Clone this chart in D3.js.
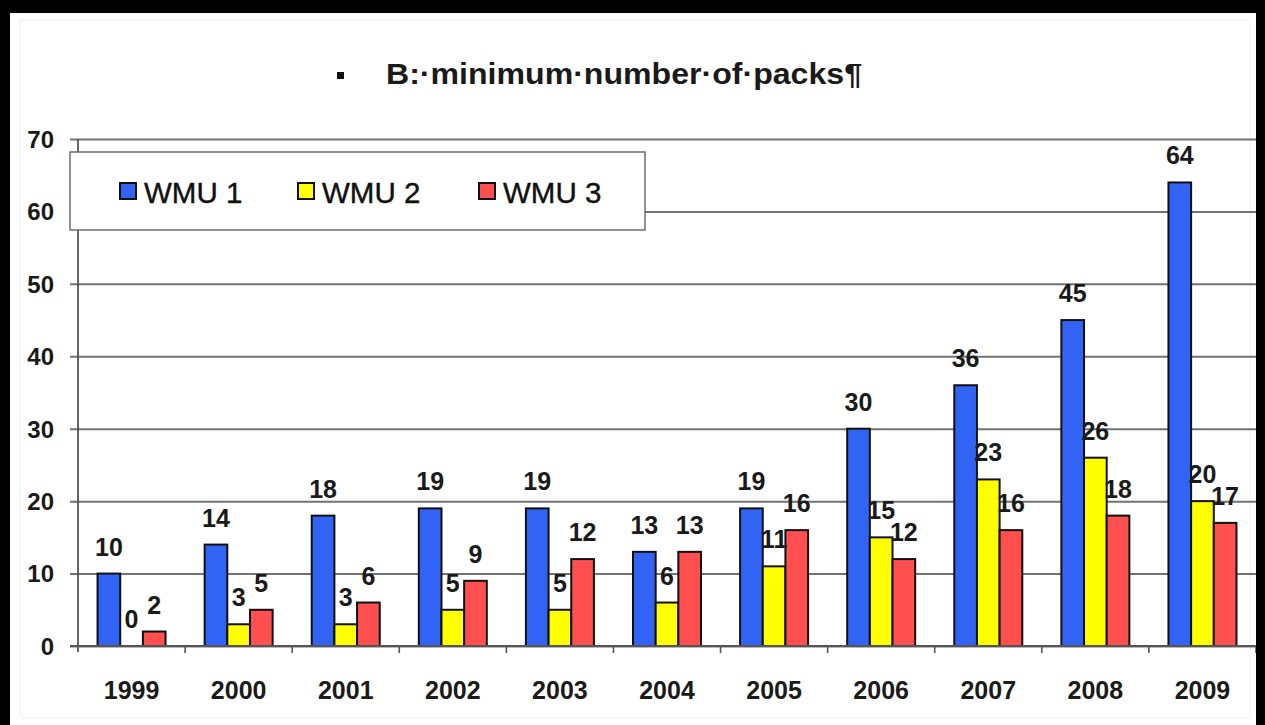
<!DOCTYPE html>
<html>
<head>
<meta charset="utf-8">
<script src="https://cdn.jsdelivr.net/npm/d3@7"></script>
<style>
html,body{margin:0;padding:0;background:#fff;}
svg{display:block;font-family:"Liberation Sans",Arial,sans-serif;}
</style>
</head>
<body>
<svg id="chart" width="1265" height="725"></svg>
<script>
const years = ["1999","2000","2001","2002","2003","2004","2005","2006","2007","2008","2009"];
const wmu1 = [10,14,18,19,19,13,19,30,36,45,64];
const wmu2 = [0,3,3,5,5,6,11,15,23,26,20];
const wmu3 = [2,5,6,9,12,13,16,12,16,18,17];
const seriesNames = ["WMU 1","WMU 2","WMU 3"];
const seriesColors = ["#3164f4","#ffff00","#ff4f4f"];
const yTicks = [0,10,20,30,40,50,60,70];
const titleText = "B:·minimum·number·of·packs¶";

(function(){
const svg = d3.select("#chart");
const W = 1265, H = 725;
const pLeft = 78, pRight = 1256, pTop = 139, pBottom = 646;

svg.append("rect").attr("x",0).attr("y",0).attr("width",W).attr("height",H).attr("fill","#fff");
svg.append("rect").attr("x",20).attr("y",20).attr("width",1230).attr("height",698)
  .attr("fill","none").attr("stroke","#f0f0f0").attr("stroke-width",1);

const x = d3.scaleBand().domain(years).range([pLeft,pRight]).paddingInner(0.365).paddingOuter(0.1825);
const xs = d3.scaleBand().domain(seriesNames).range([0,x.bandwidth()]).padding(0);
const y = d3.scaleLinear().domain([0,70]).range([pBottom,pTop]);

const yAxis = d3.axisLeft(y).tickValues(yTicks).tickSize(-(pRight-70)).tickFormat(d=>d);
const gy = svg.append("g").attr("transform",`translate(70,0)`).call(yAxis);
gy.select(".domain").remove();
gy.selectAll(".tick line").attr("stroke","#727272").attr("stroke-width",2);
gy.selectAll(".tick text").attr("x",-16).attr("dy","0.35em")
  .attr("font-size",24).attr("font-weight","bold").attr("fill","#1a1a1a")
  .attr("font-family","'Liberation Sans',Arial,sans-serif");

svg.append("line").attr("x1",pLeft).attr("x2",pLeft).attr("y1",pTop).attr("y2",pBottom+6)
  .attr("stroke","#555").attr("stroke-width",1.8);

const bounds = years.map((d,i)=> pLeft + (i+1)*x.step());
svg.selectAll("line.xt").data(bounds).join("line").attr("class","xt")
  .attr("x1",d=>d).attr("x2",d=>d).attr("y1",pBottom).attr("y2",pBottom+7)
  .attr("stroke","#555").attr("stroke-width",1.6);

const xAxis = d3.axisBottom(x).tickSize(0).tickPadding(0);
const gx = svg.append("g").attr("transform",`translate(0,${pBottom})`).call(xAxis);
gx.select(".domain").remove();
gx.selectAll(".tick text").attr("y",53).attr("dy",0)
  .attr("font-size",25).attr("font-weight","bold").attr("fill","#1a1a1a")
  .attr("font-family","'Liberation Sans',Arial,sans-serif");

const rows = years.map((yr,i)=>({year:yr, vals:[wmu1[i],wmu2[i],wmu3[i]]}));
const groups = svg.selectAll("g.grp").data(rows).join("g").attr("class","grp")
  .attr("transform",d=>`translate(${x(d.year)},0)`);
groups.selectAll("rect").data(d=>d.vals.map((v,j)=>({v,s:seriesNames[j],c:seriesColors[j]})))
  .join("rect")
  .attr("x",d=>xs(d.s)).attr("width",xs.bandwidth())
  .attr("y",d=>y(d.v)).attr("height",d=>y(0)-y(d.v))
  .attr("fill",d=>d.c).attr("stroke",d=>d.v>0?"#111":"none").attr("stroke-width",2);
groups.selectAll("text").data(d=>d.vals.map((v,j)=>({v,s:seriesNames[j]})))
  .join("text")
  .attr("x",d=>xs(d.s)+xs.bandwidth()/2).attr("y",d=>y(d.v)-18)
  .attr("text-anchor","middle").attr("font-size",25).attr("font-weight","bold")
  .attr("fill","#1a1a1a").text(d=>d.v);

svg.append("line").attr("x1",70).attr("x2",pRight).attr("y1",pBottom).attr("y2",pBottom)
  .attr("stroke","#555").attr("stroke-width",2);

const lg = svg.append("g");
lg.append("rect").attr("x",70).attr("y",152).attr("width",575).attr("height",78)
  .attr("fill","#fff").attr("stroke","#6e6e6e").attr("stroke-width",1.5);
const legX = [120,298,479];
seriesNames.forEach((s,i)=>{
  lg.append("rect").attr("x",legX[i]).attr("y",183).attr("width",16).attr("height",16)
    .attr("fill",seriesColors[i]).attr("stroke","#111").attr("stroke-width",2);
  lg.append("text").attr("x",legX[i]+24).attr("y",203).attr("font-size",29.5)
    .attr("fill","#111").attr("stroke","#111").attr("stroke-width",0.4).text(s);
});

svg.append("rect").attr("x",337).attr("y",72).attr("width",7).attr("height",7).attr("fill","#111");
svg.append("text").attr("x",386).attr("y",84).attr("font-size",29).attr("font-weight","bold")
  .attr("fill","#1a1a1a").attr("textLength",476).attr("lengthAdjust","spacingAndGlyphs")
  .text(titleText);

svg.append("rect").attr("x",0).attr("y",0).attr("width",W).attr("height",13).attr("fill","#000");
svg.append("rect").attr("x",0).attr("y",0).attr("width",10).attr("height",H).attr("fill","#000");
svg.append("rect").attr("x",1256).attr("y",0).attr("width",9).attr("height",H).attr("fill","#000");
})();
</script>
</body>
</html>
